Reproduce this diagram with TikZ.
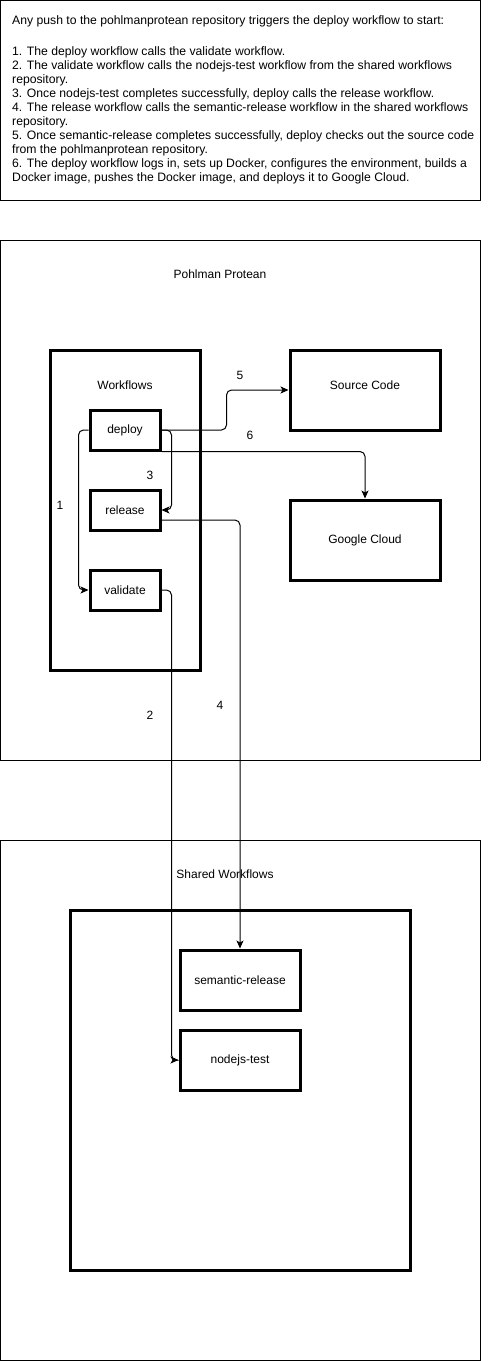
\documentclass[tikz,border=0pt]{standalone}
\usepackage{fontspec}
\setmainfont{Liberation Sans}
\usepackage{tikz}
\usetikzlibrary{arrows.meta,positioning,calc}

\begin{document}
\begin{tikzpicture}[x=1pt,y=-1pt,
  font=\fontsize{12}{14}\selectfont,
  frame/.style={draw, line width=1pt, minimum width=480pt},
  wfbox/.style={draw, line width=3pt},
  flow/.style={line width=1pt, rounded corners=5pt, -{Stealth[length=8pt,width=7pt,inset=2pt]}},
  num/.style={inner sep=0pt}]
\useasboundingbox (0,0) rectangle (491,1361);

% note at the top
\node at (240.5,100.5) [frame, minimum height=200pt] (note) {};
\node at (12,15) [anchor=north west, align=left, inner sep=0pt, font=\fontsize{12.2}{13.9}\selectfont] (notetext) {Any push to the pohlmanprotean repository triggers the deploy workflow to start:\\[18pt]
1. The deploy workflow calls the validate workflow.\\
2. The validate workflow calls the nodejs-test workflow from the shared workflows\\
repository.\\
3. Once nodejs-test completes successfully, deploy calls the release workflow.\\
4. The release workflow calls the semantic-release workflow in the shared workflows\\
repository.\\
5. Once semantic-release completes successfully, deploy checks out the source code\\
from the pohlmanprotean repository.\\
6. The deploy workflow logs in, sets up Docker, configures the environment, builds a\\
Docker image, pushes the Docker image, and deploys it to Google Cloud.};

% Pohlman Protean repository
\node at (240.5,500) [frame, minimum height=520pt] (pp) {};
\node at (220,274) (pptitle) {Pohlman Protean};
\node at (125,510) [wfbox, minimum width=150pt, minimum height=320pt] (wf) {};
\node at (125,385) (wftitle) {Workflows};
\node at (125,430) [wfbox, minimum width=70pt, minimum height=40pt] (deploy) {deploy};
\node at (125,510) [wfbox, minimum width=70pt, minimum height=40pt] (release) {release};
\node at (125,590) [wfbox, minimum width=70pt, minimum height=40pt] (validate) {validate};
\node at (365,390) [wfbox, minimum width=150pt, minimum height=80pt, text depth=10pt] (source) {Source Code};
\node at (365,540) [wfbox, minimum width=150pt, minimum height=80pt] (gcloud) {Google Cloud};

% Shared Workflows repository
\node at (240.5,1100) [frame, minimum height=520pt] (sw) {};
\node at (225,874) (swtitle) {Shared Workflows};
\node at (240,1090) [wfbox, minimum width=340pt, minimum height=360pt] (swinner) {};
\node at (240,980) [wfbox, minimum width=120pt, minimum height=60pt] (semrel) {semantic-release};
\node at (240,1060) [wfbox, minimum width=120pt, minimum height=60pt] (nodetest) {nodejs-test};

% calls
\draw[flow] (deploy.west) -- ++(-10,0) |- (validate.west);
\draw[flow] (validate.east) -- ++(10,0) |- (nodetest.west);
\draw[flow] (deploy.east) -- ++(10,0) |- (release.east);
\draw[flow] ([yshift=-10pt]release.east) -| (semrel.north);
\draw[flow] (deploy.east) -- ++(65,0) |- (source.west);
\draw[flow] (deploy.south east) -| (gcloud.north);

\node at (60,505) [num] (n1) {1};
\node at (150,715) [num] (n2) {2};
\node at (150,475) [num] (n3) {3};
\node at (220,705) [num] (n4) {4};
\node at (240,375) [num] (n5) {5};
\node at (250,435) [num] (n6) {6};

\end{tikzpicture}
\end{document}
